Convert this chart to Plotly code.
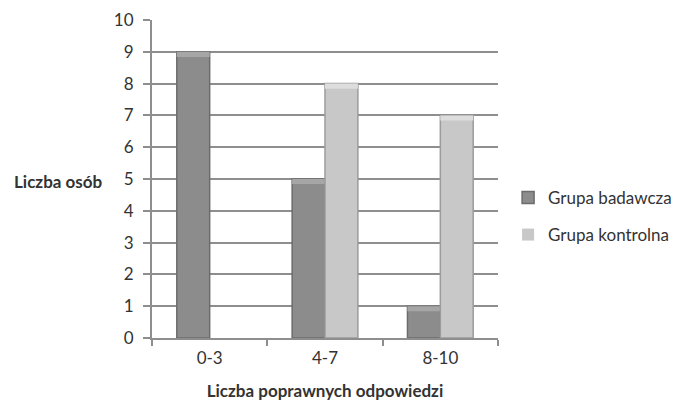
import plotly.graph_objects as go

categories = ["0-3", "4-7", "8-10"]
grupa_badawcza = [9, 5, 1]
grupa_kontrolna = [0, 8, 7]
y_ticks = list(range(0, 11))

FONT = "Lato"
TXT = "#333333"
GRID = "#8e8e8e"
BEVEL = 0.16  # height of the lighter cap on top of each column

fig = go.Figure()

series = [
    ("Grupa badawcza", grupa_badawcza, "#8c8c8c", "#6c6c6c", "#a6a6a6", "a"),
    ("Grupa kontrolna", grupa_kontrolna, "#c8c8c8", "#9c9c9c", "#dddddd", "b"),
]
for name, vals, fill, edge, cap, grp in series:
    fig.add_trace(go.Bar(
        x=categories, y=vals, name=name, offsetgroup=grp, legendgroup=grp,
        marker=dict(color=fill,
                    line=dict(color=edge, width=[1.5 if v > 0 else 0 for v in vals])),
    ))
    # light bevelled cap at the top of every non-zero column
    cap_base = [v - BEVEL if v > 0 else None for v in vals]
    cap_h = [BEVEL if v > 0 else None for v in vals]
    fig.add_trace(go.Bar(
        x=categories, y=cap_h, base=cap_base, offsetgroup=grp, legendgroup=grp,
        showlegend=False, hoverinfo="skip",
        marker=dict(color=cap, line=dict(width=0)),
    ))

fig.update_layout(
    width=682, height=403,
    margin=dict(l=152, r=184, t=20, b=65, autoexpand=False),
    paper_bgcolor="white", plot_bgcolor="white",
    barmode="group", bargap=0.43, bargroupgap=0,
    font=dict(family=FONT, size=17, color=TXT),
    showlegend=True,
    legend=dict(xref="container", yref="container",
                x=0.745, y=0.463, xanchor="left", yanchor="middle",
                font=dict(family=FONT, size=17, color=TXT),
                tracegroupgap=12, itemwidth=30,
                bgcolor="rgba(0,0,0,0)"),
    xaxis=dict(
        showgrid=False, showline=True, linecolor=GRID, linewidth=2,
        ticks="outside", ticklen=6, tickcolor=GRID, tickwidth=1.5,
        tickson="boundaries", ticklabelstandoff=4,
        title=dict(text="<b>Liczba poprawnych odpowiedzi</b>",
                   font=dict(family=FONT, size=17, color=TXT), standoff=18),
    ),
    yaxis=dict(
        range=[0, 10], tickvals=y_ticks,
        showgrid=True, gridcolor=GRID, gridwidth=1.6,
        showline=True, linecolor=GRID, linewidth=2,
        ticks="outside", ticklen=7, tickcolor=GRID, tickwidth=1.6,
        ticklabelstandoff=6, zeroline=False,
    ),
    annotations=[dict(
        text="<b>Liczba osób</b>", xref="paper", yref="paper",
        x=-0.405, y=0.493, xanchor="left", yanchor="middle", showarrow=False,
        font=dict(family=FONT, size=17, color=TXT),
    )],
)

fig.write_html("out.html")
